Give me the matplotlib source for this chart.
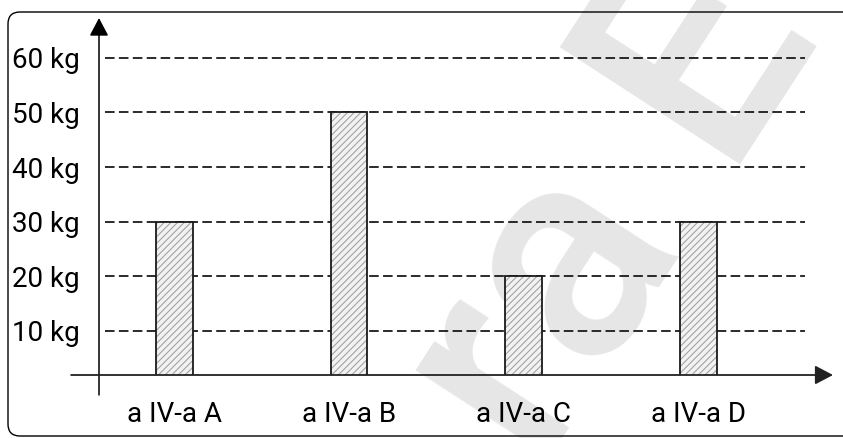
import matplotlib
matplotlib.use("Agg")
import matplotlib.pyplot as plt
import matplotlib.transforms as mtransforms
from matplotlib.patches import FancyBboxPatch

# data
categories = ["a IV-a A", "a IV-a B", "a IV-a C", "a IV-a D"]
weights = [30, 50, 20, 30]
grid_values = [10, 20, 30, 40, 50, 60]
grid_labels = ["10 kg", "20 kg", "30 kg", "40 kg", "50 kg", "60 kg"]

plt.rcParams["font.family"] = ["Roboto", "DejaVu Sans"]
plt.rcParams["hatch.linewidth"] = 0.8

fig = plt.figure(figsize=(8.43, 4.38), dpi=100)
fig.patch.set_facecolor("white")

# faint watermark behind everything
fig.text(540 / 843, -34 / 438, "ra E", rotation=57, rotation_mode="anchor",
         ha="left", va="baseline", fontsize=218, fontweight="medium",
         color="#e6e6e6", zorder=-1)

# rounded frame (pixel coords)
frame = FancyBboxPatch((8, 2), 860, 424, boxstyle="round,pad=0,rounding_size=12",
                       transform=mtransforms.IdentityTransform(),
                       fill=False, edgecolor="black", lw=1.0, zorder=5)
fig.patches.append(frame)

ax = fig.add_axes([99 / 843, 63 / 438, 734 / 843, 357 / 438])
ax.set_facecolor("none")
x = list(range(len(categories)))

# dashed guide lines
ax.hlines(grid_values, -0.398, 3.607, colors="#1a1a1a", lw=1.3,
          linestyles=(0, (5.3, 2.4)), zorder=1)

# hatched bars: fill+hatch first, then outline
ax.bar(x, weights, width=0.21, facecolor="#f2f2f2", edgecolor="#a3a3a3",
       hatch="/////", lw=0, zorder=2)
ax.bar(x, weights, width=0.21, fill=False, edgecolor="#1a1a1a", lw=1.3, zorder=3)

ax.set_xlim(-0.432, 3.770)
ax.set_ylim(1.94, 67.3)

for s in ax.spines.values():
    s.set_visible(False)

ax.set_yticks(grid_values)
ax.set_yticklabels(grid_labels)
ax.set_xticks(x)
ax.set_xticklabels(categories)
ax.tick_params(axis="y", length=0, pad=13.7, labelsize=20, labelcolor="black")
ax.tick_params(axis="x", length=0, pad=19.0, labelsize=20, labelcolor="black")

# axis arrows
ax.annotate("", xy=(0, 1.0), xytext=(0, -0.056), xycoords="axes fraction",
            arrowprops=dict(arrowstyle="-|>,head_length=1.1,head_width=0.58",
                            mutation_scale=10, lw=1.1, color="black",
                            shrinkA=0, shrinkB=0), annotation_clip=False)
ax.annotate("", xy=(1.0, 0), xytext=(-0.038, 0), xycoords="axes fraction",
            arrowprops=dict(arrowstyle="-|>,head_length=1.1,head_width=0.58",
                            mutation_scale=10, lw=1.3, color="#222222",
                            shrinkA=0, shrinkB=0), annotation_clip=False)

fig.savefig("out.png", dpi=100)
